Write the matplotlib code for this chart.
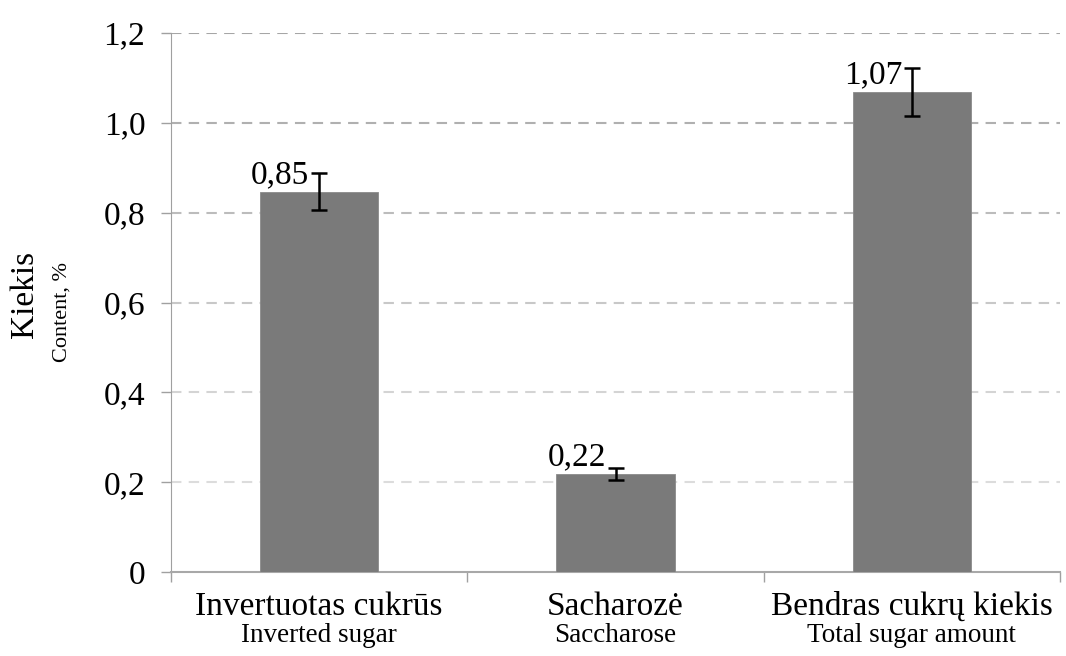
import matplotlib
matplotlib.use("Agg")
import matplotlib.pyplot as plt
from matplotlib.transforms import blended_transform_factory

categories_lt = ["Invertuotas cukrūs", "Sacharozė", "Bendras cukrų kiekis"]
categories_en = ["Inverted sugar", "Saccharose", "Total sugar amount"]
values = [0.847, 0.218, 1.069]
errors = [0.041, 0.014, 0.053]
value_labels = ["0,85", "0,22", "1,07"]
yticks = [0, 0.2, 0.4, 0.6, 0.8, 1.0, 1.2]
ytick_labels = ["0", "0,2", "0,4", "0,6", "0,8", "1,0", "1,2"]

plt.rcParams['font.family'] = ['Liberation Serif', 'DejaVu Serif']

fig = plt.figure(figsize=(10.66, 6.56), dpi=100)
ax = fig.add_axes([171/1066, 1-572/656, (1060-171)/1066, (572-33)/656])

x = list(range(len(values)))
ax.bar(x, values, width=0.40, color='#7a7a7a', edgecolor='#8a8a8a', linewidth=0.6, zorder=3)
ax.errorbar(x, values, yerr=errors, fmt='none', ecolor='black', elinewidth=1.8,
            capsize=5.5, capthick=1.8, zorder=4)

for xi, v, lab in zip(x, values, value_labels):
    ax.annotate(lab, (xi, v), xytext=(-7, 6), textcoords='offset points',
                ha='right', va='baseline', fontsize=24, zorder=5)

ax.set_xlim(-0.5, 2.5)
ax.set_ylim(0, 1.2)
ax.set_yticks(yticks)
ax.set_yticklabels(ytick_labels, fontsize=24)
ax.tick_params(axis='y', length=7.5, width=1, color='#a0a0a0', pad=11, direction='out')

# gridlines with gradient grey
grid_colors = ['#dcdcdc', '#d4d4d4', '#c8c8c8', '#bcbcbc', '#b0b0b0', '#a6a6a6']
for yv, c in zip(yticks[1:], grid_colors):
    ax.axhline(yv, color=c, linestyle=(0, (5, 3.5)), linewidth=1.5, zorder=1)

# x ticks at category boundaries
ax.set_xticks([-0.5, 0.5, 1.5, 2.5])
ax.set_xticklabels([])
ax.tick_params(axis='x', length=7.5, width=1, color='#a0a0a0', direction='out')

trans = blended_transform_factory(ax.transData, fig.transFigure)
for xi, lt, en in zip(x, categories_lt, categories_en):
    ax.text(xi, 1-615/656, lt, transform=trans, ha='center', va='baseline', fontsize=24)
    ax.text(xi, 1-642/656, en, transform=trans, ha='center', va='baseline', fontsize=19.5)

for s in ['top', 'right']:
    ax.spines[s].set_visible(False)
ax.spines['left'].set_color('#a0a0a0')
ax.spines['bottom'].set_color('#a8a8a8')
ax.spines['bottom'].set_linewidth(1.5)

fig.text(25/1066, 1-294/656, "Kiekis", rotation=90, ha='center', va='center', fontsize=24)
fig.text(62/1066, 1-312/656, "Content, %", rotation=90, ha='center', va='center', fontsize=16)

fig.savefig("out.png", dpi=100)
